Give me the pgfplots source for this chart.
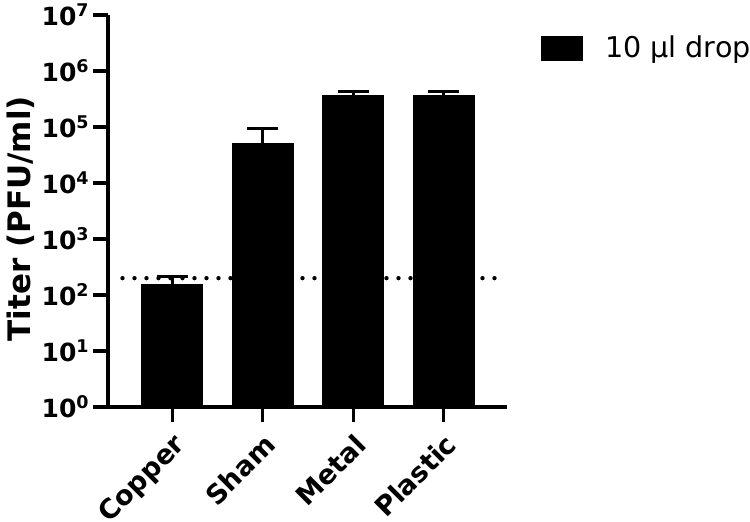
\documentclass[border=0pt]{standalone}
\usepackage{fontspec}
\setmainfont{DejaVu Sans}
\usepackage{pgfplots}
\pgfplotsset{compat=1.18}
\begin{document}
\begin{tikzpicture}
\useasboundingbox (-54pt,-57pt) rectangle (321pt,203.5pt);
\begin{semilogyaxis}[
    at={(0,0)}, anchor=south west,
    scale only axis,
    width=199.5pt, height=196pt,
    xmin=-0.71, xmax=3.70,
    ymin=1, ymax=1e7,
    axis x line=bottom, axis y line=left,
    axis line style={-, line width=1.6pt},
    tick align=outside,
    major tick length=7.5pt,
    tick style={line width=1.6pt, black},
    yminorticks=false,
    xtick={0,1,2,3},
    xticklabels={Copper,Sham,Metal,Plastic},
    ytick={1,10,100,1000,1e4,1e5,1e6,1e7},
    yticklabels={10\textsuperscript{0},10\textsuperscript{1},10\textsuperscript{2},10\textsuperscript{3},10\textsuperscript{4},10\textsuperscript{5},10\textsuperscript{6},10\textsuperscript{7}},
    tick label style={font=\fontsize{12.5}{14}\selectfont\bfseries},
    xticklabel style={font=\fontsize{13.5}{16}\selectfont\bfseries, yshift=-3.5pt, rotate=45, anchor=north east, inner sep=1pt},
    yticklabel style={inner sep=1.5pt},
    ylabel={Titer (PFU/ml)},
    ylabel style={font=\fontsize{15.5}{18}\selectfont\bfseries, at={([xshift=-43.5pt]rel axis cs:0,0.48)}, anchor=center},
    legend style={draw=none, fill=none, at={(rel axis cs:1.070,0.916)}, anchor=west,
        font=\fontsize{14.3}{16}\selectfont, legend cell align=left},
]
\addplot[ybar, bar width=30.5pt, fill=black, draw=black,
    legend image code/.code={\fill[black] (0pt,-6pt) rectangle (20.5pt,6pt); \path (29.5pt,0pt);},
    error bars/.cd, y dir=plus, y explicit,
    error bar style={line width=1.5pt, black},
    error mark options={rotate=90, mark size=7.75pt, line width=1.5pt, black}]
    table[x=x, y=y, y error plus=e] {
    x y e
    0 155 63
    1 50000 43000
    2 363000 64000
    3 363000 64000
    };
\addplot[line width=2.2pt, line cap=round, dash pattern=on 0pt off 6pt, forget plot]
    coordinates {(-0.55,200) (3.65,200)};
\legend{10 µl drop}
\end{semilogyaxis}
\end{tikzpicture}
\end{document}
